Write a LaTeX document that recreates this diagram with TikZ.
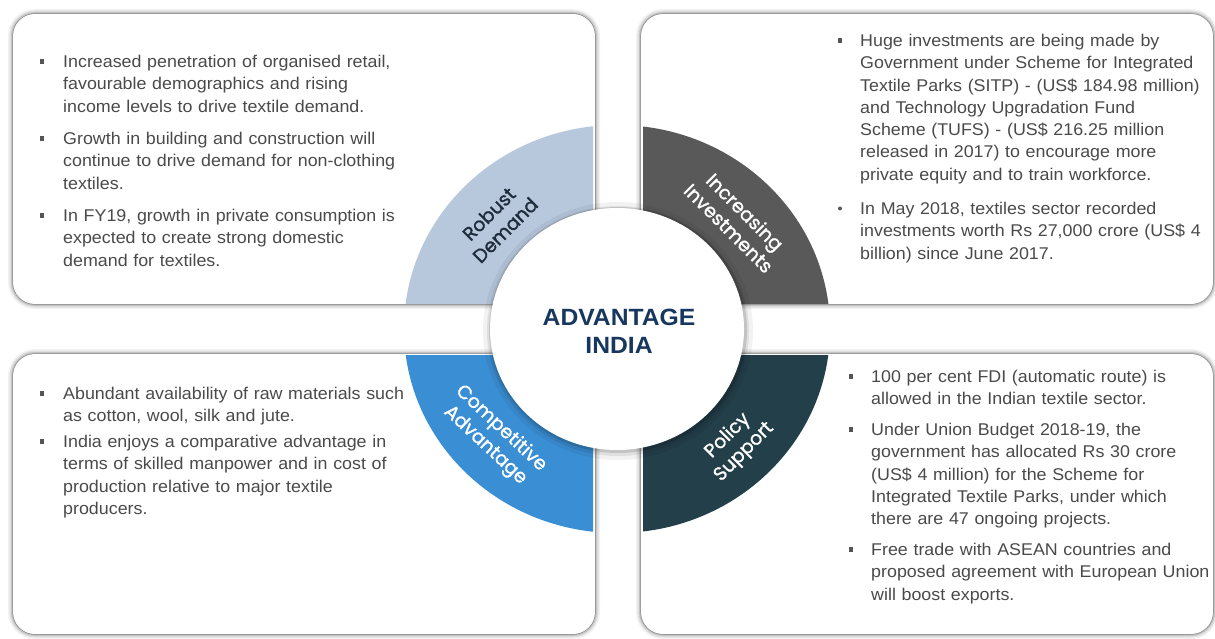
\documentclass[tikz,border=0pt]{standalone}
\usepackage{fontspec}
\usetikzlibrary{shapes.geometric}
\setmainfont{Liberation Sans}[FakeStretch=1.05]
\newfontfamily\labelfont{Poppins}[FakeBold=1.2]
\definecolor{cRD}{HTML}{B7C7DC}
\definecolor{cII}{HTML}{595959}
\definecolor{cCA}{HTML}{3A8ED3}
\definecolor{cPS}{HTML}{233F4A}
\definecolor{navy}{HTML}{17375E}
\definecolor{rdtxt}{HTML}{1E2B3A}
\definecolor{bodytxt}{HTML}{4A4A4A}
\definecolor{bul}{HTML}{555555}
\tikzset{
  panel/.style={fill=white, rounded corners=22pt},
  glow/.style={draw=black, rounded corners=22pt},
  para/.style={anchor=base west, inner sep=0pt, text width=440pt, align=left,
    text=bodytxt, font=\fontsize{17}{22.3}\selectfont},
  sqbul/.style={fill=bul, inner sep=0pt, minimum size=4.5pt, rectangle},
  rdbul/.style={fill=bul, inner sep=0pt, minimum size=4pt, circle},
  ringlabel/.style={text=white, align=center, inner sep=0pt,
    font=\labelfont\fontsize{19}{23}\selectfont},
}
\newcommand{\softbox}[4]{%
  \draw[glow, line width=10pt, opacity=0.05] (#1,#2) rectangle (#3,#4);
  \draw[glow, line width=7pt, opacity=0.08] (#1,#2) rectangle (#3,#4);
  \draw[glow, line width=4pt, opacity=0.12] (#1,#2) rectangle (#3,#4);
  \draw[glow, line width=1.5pt, opacity=0.28] (#1,#2) rectangle (#3,#4);
  \fill[panel] (#1,#2) rectangle (#3,#4);
}
\begin{document}
\begin{tikzpicture}[x=1pt,y=-1pt]
\useasboundingbox (0,0) rectangle (1215,639);
\fill[white] (0,0) rectangle (1215,639);
% panels
\softbox{13}{14}{595}{304}
\softbox{641}{14}{1213}{304}
\softbox{13}{354}{595}{634}
\softbox{641}{354}{1213}{634}
% ring quadrants
\begin{scope}
  \clip (13,14) rectangle (593,303);
  \fill[cRD] (617,329) ellipse [x radius=213pt, y radius=204pt];
\end{scope}
\begin{scope}
  \clip (643,14) rectangle (1213,303);
  \fill[cII] (617,329) ellipse [x radius=213pt, y radius=204pt];
\end{scope}
\begin{scope}
  \clip (13,355) rectangle (593,634);
  \fill[cCA] (617,329) ellipse [x radius=213pt, y radius=204pt];
\end{scope}
\begin{scope}
  \clip (643,355) rectangle (1213,634);
  \fill[cPS] (617,329) ellipse [x radius=213pt, y radius=204pt];
\end{scope}
% center circle with soft shadow
\fill[black, opacity=0.05] (618,331) ellipse [x radius=135pt, y radius=129pt];
\fill[black, opacity=0.08] (618,331) ellipse [x radius=131pt, y radius=125pt];
\fill[black, opacity=0.12] (618,330) ellipse [x radius=129pt, y radius=123pt];
\node[ellipse, fill=white, minimum width=254pt, minimum height=242pt, inner sep=0pt] (core) at (617,329) {};
\node[text=navy, align=center, inner sep=0pt, font=\fontsize{23.5}{28}\selectfont\bfseries] (title) at (619,331) {ADVANTAGE\\INDIA};
% ring labels
\node[ringlabel, text=rdtxt, rotate=45] (lRD) at (497,222) {Robust\\Demand};
\node[ringlabel, rotate=-45] (lII) at (737,220) {Increasing\\Investments};
\node[ringlabel, rotate=-43] (lCA) at (493,437) {Competitive\\Advantage};
\node[ringlabel, rotate=45] (lPS) at (736,444) {Policy\\Support};
% top-left text
\node[sqbul] (b1) at (42,61.5) {};
\node[para] (t1) at (63,67.5) {Increased penetration of organised retail,\\favourable demographics and rising\\income levels to drive textile demand.};
\node[sqbul] (b2) at (42,138.5) {};
\node[para] (t2) at (63,144.5) {Growth in building and construction will\\continue to drive demand for non-clothing\\textiles.};
\node[sqbul] (b3) at (42,215.5) {};
\node[para] (t3) at (63,221.5) {In FY19, growth in private consumption is\\expected to create strong domestic\\demand for textiles.};
% top-right text
\node[sqbul] (b4) at (840,40.5) {};
\node[para] (t4) at (860,46.5) {Huge investments are being made by\\Government under Scheme for Integrated\\Textile Parks (SITP) - (US\$ 184.98 million)\\and Technology Upgradation Fund\\Scheme (TUFS) - (US\$ 216.25 million\\released in 2017) to encourage more\\private equity and to train workforce.};
\node[rdbul] (b5) at (840,208.5) {};
\node[para] (t5) at (860,214.5) {In May 2018, textiles sector recorded\\investments worth Rs 27,000 crore (US\$ 4\\billion) since June 2017.};
% bottom-left text
\node[sqbul] (b6) at (42,393.5) {};
\node[para] (t6) at (63,399.5) {Abundant availability of raw materials such\\as cotton, wool, silk and jute.};
\node[sqbul] (b7) at (42,441.5) {};
\node[para] (t7) at (63,447.5) {India enjoys a comparative advantage in\\terms of skilled manpower and in cost of\\production relative to major textile\\producers.};
% bottom-right text
\node[sqbul] (b8) at (851,376.5) {};
\node[para] (t8) at (871,382.5) {100 per cent FDI (automatic route) is\\allowed in the Indian textile sector.};
\node[sqbul] (b9) at (851,429.5) {};
\node[para] (t9) at (871,435.5) {Under Union Budget 2018-19, the\\government has allocated Rs 30 crore\\(US\$ 4 million) for the Scheme for\\Integrated Textile Parks, under which\\there are 47 ongoing projects.};
\node[sqbul] (b10) at (851,549.5) {};
\node[para] (t10) at (871,555.5) {Free trade with ASEAN countries and\\proposed agreement with European Union\\will boost exports.};
\end{tikzpicture}
\end{document}
